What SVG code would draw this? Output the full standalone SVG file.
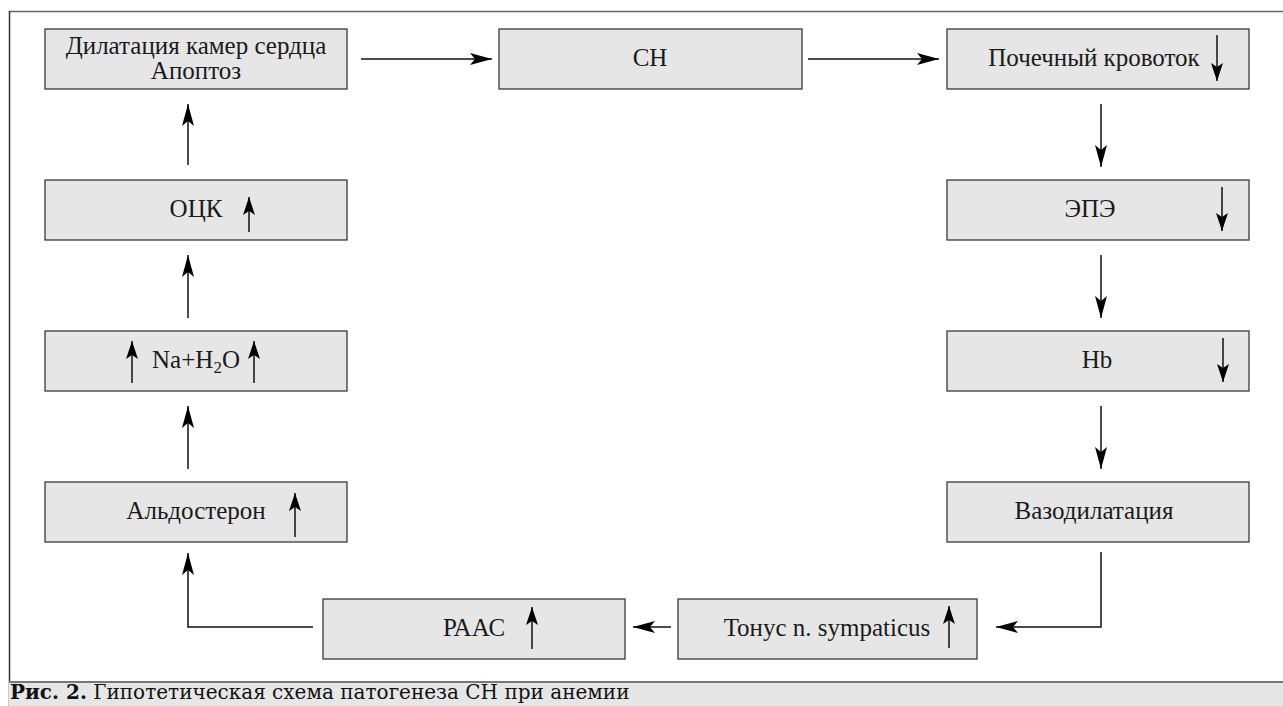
<svg xmlns="http://www.w3.org/2000/svg" width="1283" height="706" viewBox="0 0 1283 706">
<defs>
<style>
.box{fill:#e6e6e6;stroke:#3a3a3a;stroke-width:1.3}
.t{font-family:'Liberation Serif','Times New Roman','DejaVu Serif',serif;font-size:25px;fill:#1a1a1a;text-anchor:middle}
.c{fill:none;stroke:#111;stroke-width:1.5}
.in{fill:none;stroke:#111;stroke-width:1.5}
.cap{font-family:'DejaVu Serif','Liberation Serif',serif;font-size:20px;fill:#111}
</style>
<marker id="ah" markerUnits="userSpaceOnUse" markerWidth="24" markerHeight="14" viewBox="0 -7 24 14" refX="22" refY="0" orient="auto">
<path d="M0,-6 L22,0 L0,6 L5,0 Z" fill="#000"/>
</marker>
<marker id="ahs" markerUnits="userSpaceOnUse" markerWidth="20" markerHeight="14" viewBox="0 -7 20 14" refX="18" refY="0" orient="auto">
<path d="M0,-6 L18,0 L0,6 L4,0 Z" fill="#000"/>
</marker>
</defs>
<rect x="0" y="0" width="1283" height="706" fill="#fff"/>
<g id="frame">
<line x1="9" y1="11.5" x2="1283" y2="11.5" stroke="#666" stroke-width="1.5"/>
<line x1="9.5" y1="11" x2="9.5" y2="706" stroke="#333" stroke-width="1.5"/>
<rect x="9" y="682" width="1274" height="24" fill="#e6e6e6"/>
<line x1="9" y1="682" x2="1283" y2="682" stroke="#777" stroke-width="2"/>
</g>
<g id="connectors">
<line class="c" x1="361" y1="59" x2="492" y2="59" marker-end="url(#ah)"/>
<line class="c" x1="808" y1="59" x2="939" y2="59" marker-end="url(#ah)"/>
<line class="c" x1="1101" y1="104" x2="1101" y2="167" marker-end="url(#ah)"/>
<line class="c" x1="1101" y1="255" x2="1101" y2="318" marker-end="url(#ah)"/>
<line class="c" x1="1101" y1="406" x2="1101" y2="469" marker-end="url(#ah)"/>
<polyline class="c" points="1101,552 1101,627 996,627" marker-end="url(#ah)"/>
<line class="c" x1="671" y1="627" x2="633" y2="627" marker-end="url(#ah)"/>
<polyline class="c" points="313,627 188,627 188,553" marker-end="url(#ah)"/>
<line class="c" x1="188" y1="469" x2="188" y2="406" marker-end="url(#ah)"/>
<line class="c" x1="188" y1="318" x2="188" y2="255" marker-end="url(#ah)"/>
<line class="c" x1="188" y1="165" x2="188" y2="104" marker-end="url(#ah)"/>
</g>
<g id="n-dilat">
<rect class="box" x="45" y="29" width="302" height="60"/>
<text class="t" x="196" y="54">Дилатация камер сердца</text>
<text class="t" x="196" y="79">Апоптоз</text>
</g>
<g id="n-ch">
<rect class="box" x="499" y="29" width="303" height="60"/>
<text class="t" x="650" y="66">СН</text>
</g>
<g id="n-renal">
<rect class="box" x="947" y="29" width="302" height="60"/>
<text class="t" x="1094" y="66">Почечный кровоток</text>
<line class="in" x1="1217" y1="35" x2="1217" y2="81" marker-end="url(#ahs)"/>
</g>
<g id="n-epe">
<rect class="box" x="947" y="180" width="302" height="60"/>
<text class="t" x="1090" y="217">ЭПЭ</text>
<line class="in" x1="1222" y1="187" x2="1222" y2="231" marker-end="url(#ahs)"/>
</g>
<g id="n-hb">
<rect class="box" x="947" y="331" width="302" height="60"/>
<text class="t" x="1097" y="368">Hb</text>
<line class="in" x1="1223" y1="338" x2="1223" y2="382" marker-end="url(#ahs)"/>
</g>
<g id="n-vaso">
<rect class="box" x="947" y="482" width="302" height="60"/>
<text class="t" x="1094" y="519">Вазодилатация</text>
</g>
<g id="n-tonus">
<rect class="box" x="678" y="599" width="299" height="60"/>
<text class="t" x="827" y="636">Тонус n. sympaticus</text>
<line class="in" x1="949" y1="648" x2="949" y2="606" marker-end="url(#ahs)"/>
</g>
<g id="n-raas">
<rect class="box" x="323" y="599" width="302" height="60"/>
<text class="t" x="474" y="636">РААС</text>
<line class="in" x1="532" y1="649" x2="532" y2="607" marker-end="url(#ahs)"/>
</g>
<g id="n-aldo">
<rect class="box" x="45" y="482" width="302" height="60"/>
<text class="t" x="196" y="519">Альдостерон</text>
<line class="in" x1="295" y1="537" x2="295" y2="493" marker-end="url(#ahs)"/>
</g>
<g id="n-na">
<rect class="box" x="45" y="331" width="302" height="60"/>
<text class="t" x="196" y="368">Na+H<tspan font-size="17" dy="5">2</tspan><tspan dy="-5">O</tspan></text>
<line class="in" x1="132" y1="383" x2="132" y2="341" marker-end="url(#ahs)"/>
<line class="in" x1="254" y1="383" x2="254" y2="341" marker-end="url(#ahs)"/>
</g>
<g id="n-ock">
<rect class="box" x="45" y="180" width="302" height="60"/>
<text class="t" x="196" y="217">ОЦК</text>
<line class="in" x1="249" y1="232" x2="249" y2="197" marker-end="url(#ahs)"/>
</g>
<g id="caption">
<text class="cap" x="10" y="699"><tspan font-weight="bold">Рис. 2.</tspan> Гипотетическая схема патогенеза СН при анемии</text>
</g>
</svg>
